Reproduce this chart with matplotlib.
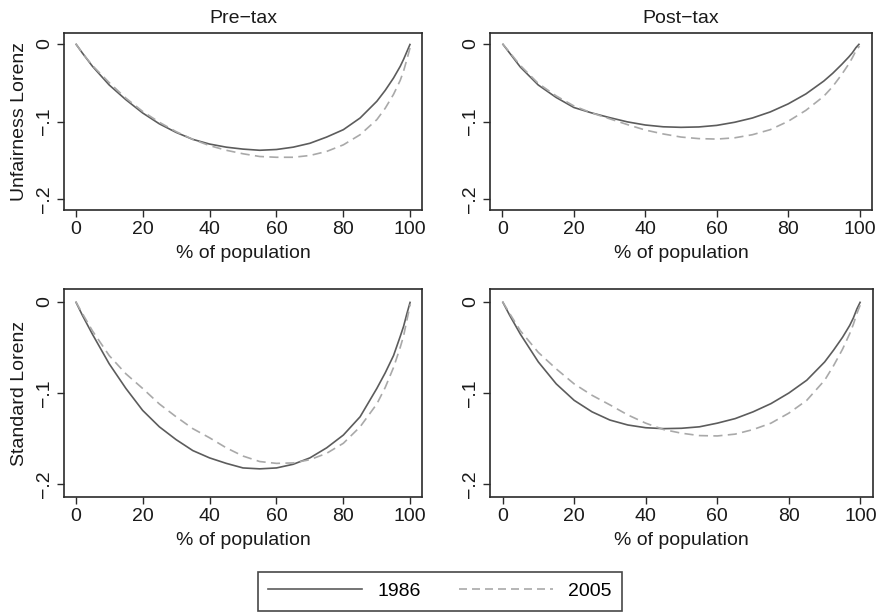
import matplotlib
matplotlib.use("Agg")
import matplotlib.pyplot as plt
from matplotlib.lines import Line2D

plt.rcParams['font.family'] = ['Liberation Sans', 'DejaVu Sans']

# ---- data ----
pop = [0, 2, 5, 10, 15, 20, 25, 30, 35, 40, 45, 50, 55, 60, 65, 70, 75, 80, 85, 90, 92.5, 95, 97, 98, 99, 100]

pre_unfair_1986 = [0, -0.012, -0.029, -0.053, -0.072, -0.089, -0.103, -0.114, -0.123, -0.129, -0.133, -0.1355,
                   -0.137, -0.136, -0.133, -0.128, -0.120, -0.1105, -0.0955, -0.074, -0.060, -0.044, -0.029,
                   -0.020, -0.010, 0]
pre_unfair_2005 = [0, -0.012, -0.028, -0.050, -0.070, -0.087, -0.101, -0.113, -0.123, -0.131, -0.137, -0.1415,
                   -0.145, -0.146, -0.146, -0.1437, -0.1385, -0.130, -0.117, -0.0976, -0.083, -0.065, -0.047,
                   -0.035, -0.020, -0.004]

post_unfair_1986 = [0, -0.012, -0.030, -0.053, -0.069, -0.082, -0.089, -0.095, -0.1005, -0.1045, -0.1068, -0.1075,
                    -0.107, -0.105, -0.101, -0.0955, -0.0877, -0.0774, -0.0645, -0.048, -0.038, -0.0267, -0.017,
                    -0.0116, -0.005, 0]
post_unfair_2005 = [0, -0.011, -0.028, -0.051, -0.067, -0.080, -0.089, -0.0965, -0.104, -0.111, -0.116, -0.120,
                    -0.122, -0.1226, -0.121, -0.117, -0.1105, -0.0998, -0.0856, -0.0675, -0.055, -0.0396, -0.026,
                    -0.018, -0.009, -0.003]

pre_std_1986 = [0, -0.015, -0.0357, -0.068, -0.095, -0.119, -0.137, -0.151, -0.163, -0.171, -0.177, -0.182,
                -0.183, -0.182, -0.178, -0.171, -0.160, -0.146, -0.126, -0.095, -0.078, -0.059, -0.038,
                -0.027, -0.013, 0]
pre_std_2005 = [0, -0.013, -0.032, -0.059, -0.079, -0.095, -0.112, -0.126, -0.139, -0.149, -0.160, -0.169,
                -0.175, -0.177, -0.1765, -0.173, -0.166, -0.155, -0.137, -0.112, -0.094, -0.072, -0.050,
                -0.0375, -0.020, -0.003]

post_std_1986 = [0, -0.015, -0.0357, -0.066, -0.090, -0.108, -0.1206, -0.1296, -0.135, -0.138, -0.139, -0.1386,
                 -0.137, -0.133, -0.128, -0.1206, -0.1116, -0.100, -0.086, -0.066, -0.053, -0.039, -0.026,
                 -0.018, -0.008, 0]
post_std_2005 = [0, -0.013, -0.032, -0.0556, -0.0736, -0.090, -0.1025, -0.113, -0.124, -0.133, -0.140, -0.144,
                 -0.1466, -0.147, -0.145, -0.140, -0.133, -0.122, -0.108, -0.086, -0.070, -0.052, -0.035,
                 -0.025, -0.013, -0.003]

col_titles = ["Pre\u2212tax", "Post\u2212tax"]
row_labels = ["Unfairness Lorenz", "Standard Lorenz"]
series_names = ["1986", "2005"]
xticks = [0, 20, 40, 60, 80, 100]
yticks = [0, -0.1, -0.2]
yticklabels = ["0", "\u2212.1", "\u2212.2"]
xlabel = "% of population"

# ---- style ----
W, H = 876, 615
C1986 = "#5c5c5c"
C2005 = "#a9a9a9"
SPINE = "#2a2a2a"
FS = 14
DASH = (0, (5.5, 3.2))

fig = plt.figure(figsize=(W / 100, H / 100), dpi=100)

def px_axes(x0, y0, x1, y1):
    return fig.add_axes([x0 / W, 1 - y1 / H, (x1 - x0) / W, (y1 - y0) / H])

boxes = [[(64, 33, 422, 210), (490, 33, 872, 210)],
         [(64, 289, 422, 497), (490, 289, 873, 497)]]
data = [[(pre_unfair_1986, pre_unfair_2005), (post_unfair_1986, post_unfair_2005)],
        [(pre_std_1986, pre_std_2005), (post_std_1986, post_std_2005)]]

for r in range(2):
    for c in range(2):
        ax = px_axes(*boxes[r][c])
        s86, s05 = data[r][c]
        ax.plot(pop, s86, color=C1986, lw=1.2, solid_capstyle='butt', solid_joinstyle='round')
        ax.plot(pop, s05, color=C2005, lw=1.2, linestyle=DASH)
        ax.set_xlim(-3.5, 103.5)
        ax.set_ylim(-0.2138, 0.0138)
        ax.set_xticks(xticks)
        ax.set_xticklabels([str(t) for t in xticks])
        ax.set_yticks(yticks)
        ax.set_yticklabels(yticklabels, rotation=90, va='center')
        ax.tick_params(direction='out', length=5, width=1.0, color=SPINE,
                       labelsize=FS, labelcolor='#1a1a1a', pad=3)
        for sp in ax.spines.values():
            sp.set_color(SPINE)
            sp.set_linewidth(1.2)
        ax.set_xlabel(xlabel, fontsize=FS, color='#1a1a1a', labelpad=5)
        if c == 0:
            ax.set_ylabel(row_labels[r], fontsize=FS, color='#1a1a1a', labelpad=6)
        if r == 0:
            ax.set_title(col_titles[c], fontsize=FS, color='#1a1a1a', pad=7)

handles = [Line2D([], [], color=C1986, lw=1.2),
           Line2D([], [], color=C2005, lw=1.2, linestyle=(0, (4.8, 3.0)))]
leg = fig.legend(handles, series_names, loc='center', bbox_to_anchor=(440 / W, 1 - 591 / H),
                 ncol=2, frameon=True, fancybox=False, fontsize=FS, handlelength=4.8,
                 handletextpad=0.8, columnspacing=2.0, borderpad=0.55, borderaxespad=0)
leg.get_frame().set_edgecolor('#1a1a1a')
leg.get_frame().set_linewidth(1.2)

fig.savefig("out.png", dpi=100)
